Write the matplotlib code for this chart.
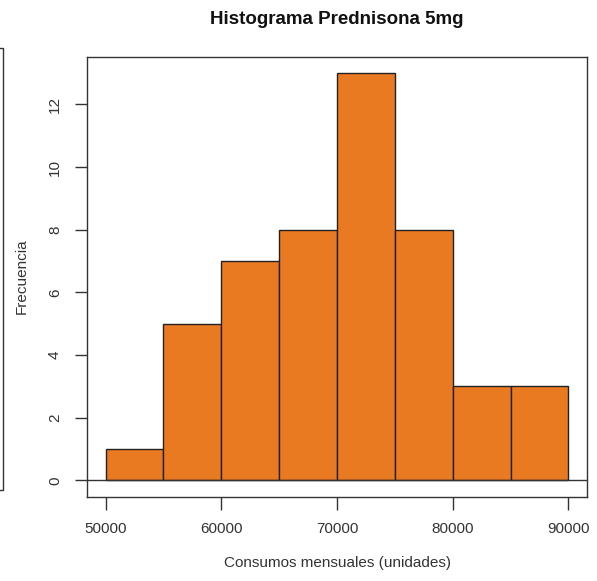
import numpy as np
import matplotlib
matplotlib.use('Agg')
import matplotlib.pyplot as plt
from matplotlib.patches import Rectangle

plt.rcParams['font.family'] = ['Liberation Sans', 'DejaVu Sans']

# histograma de consumos mensuales
bordes = [50000, 55000, 60000, 65000, 70000, 75000, 80000, 85000, 90000]
frecuencias = [1, 5, 7, 8, 13, 8, 3, 3]
xticks = [50000, 60000, 70000, 80000, 90000]
yticks = [0, 2, 4, 6, 8, 10, 12]

fig = plt.figure(figsize=(5.97, 5.81), dpi=100)
ax = fig.add_axes([87/597, 1 - 496.7/581, 500/597, 440/581])

ax.bar(bordes[:-1], frecuencias, width=5000, align='edge',
       color='#E97A22', edgecolor='#222222', linewidth=1.0, zorder=2)
ax.axhline(0, color='#333333', linewidth=1.0, zorder=3)

# limites estilo R (4% extra)
ax.set_xlim(48400, 91600)
ax.set_ylim(-0.52, 13.52)

ax.set_xticks(xticks)
ax.set_xticklabels([str(v) for v in xticks], fontsize=11, color='#333333')
ax.set_yticks(yticks)
ax.set_yticklabels([str(v) for v in yticks], fontsize=11, color='#333333',
                   rotation=90, va='center')
ax.tick_params(axis='both', length=9, width=1.0, color='#333333', pad=9)

for s in ax.spines.values():
    s.set_color('#333333')
    s.set_linewidth(1.0)

fig.text(337/597, 1 - 563/581, 'Consumos mensuales (unidades)', fontsize=11,
         color='#333333', ha='center', va='center')
fig.text(22/597, 1 - 276/581, 'Frecuencia', fontsize=11, color='#333333',
         ha='center', va='center', rotation=90)
fig.text(337/597, 1 - 20/581, 'Histograma Prednisona 5mg', fontsize=13.5, fontweight='bold',
         ha='center', va='center', color='#111111')

# borde de otro grafico recortado a la izquierda
fig.patches.append(Rectangle((-0.1, 1 - 490/581), 0.1 + 3/597, (490 - 48)/581,
                             transform=fig.transFigure, fill=False,
                             edgecolor='#333333', linewidth=1.0))

fig.savefig('out.png', dpi=100)
